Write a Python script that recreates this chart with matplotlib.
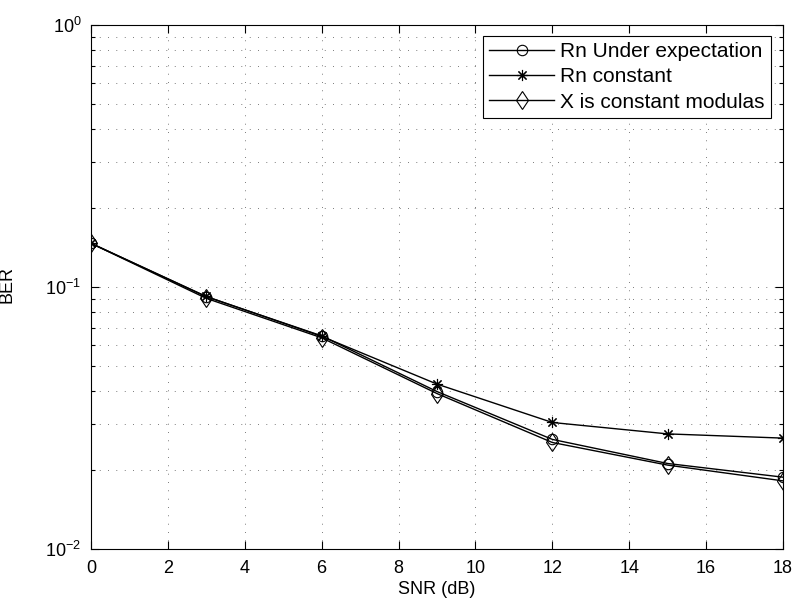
import numpy as np
import matplotlib.pyplot as plt
from matplotlib.ticker import LogLocator, NullFormatter, MultipleLocator

plt.rcParams['font.family'] = ['Liberation Sans', 'DejaVu Sans']
plt.rcParams['mathtext.fontset'] = 'custom'
plt.rcParams['mathtext.rm'] = 'Liberation Sans'

# data
snr = [0, 3, 6, 9, 12, 15, 18]
ber_expect = [0.1468, 0.0918, 0.0651, 0.0399, 0.0262, 0.0212, 0.0188]
ber_const = [0.1468, 0.0920, 0.0648, 0.0426, 0.0304, 0.0275, 0.0265]
ber_cm = [0.1468, 0.0905, 0.0640, 0.0392, 0.0255, 0.0209, 0.0182]
labels = ['Rn Under expectation', 'Rn constant', 'X is constant modulas']

fig = plt.figure(figsize=(7.97, 6.10), dpi=100)
ax = fig.add_axes([91 / 797, 1 - 549 / 610, 692 / 797, 524 / 610])

ax.semilogy(snr, ber_expect, color='k', lw=1, marker='o', ms=7.5,
            mfc='none', mec='k', mew=0.8, label=labels[0])
ax.semilogy(snr, ber_const, color='k', lw=1, marker=(8, 2, 0), ms=8,
            mfc='none', mec='k', mew=0.8, label=labels[1])
ax.semilogy(snr, ber_cm, color='k', lw=1, marker='d', ms=9.5,
            mfc='none', mec='k', mew=0.8, label=labels[2])

ax.set_xlim(0, 18)
ax.set_ylim(1e-2, 1e0)
ax.xaxis.set_major_locator(MultipleLocator(2))
ax.yaxis.set_major_locator(LogLocator(base=10, numticks=10))
ax.yaxis.set_minor_locator(LogLocator(base=10, subs=np.arange(2, 10), numticks=20))
ax.yaxis.set_minor_formatter(NullFormatter())

dots = (0, (1, 11))
ax.grid(True, which='major', axis='both', ls=dots, color='k', lw=0.5)
ax.grid(True, which='minor', axis='y', ls=dots, color='k', lw=0.5)

ax.tick_params(which='both', direction='in', top=True, right=True,
               labelsize=13, width=0.8)
ax.tick_params(which='major', length=6)
ax.tick_params(which='minor', length=3)
ax.tick_params(axis='x', pad=8)
ax.tick_params(axis='y', pad=7)
for s in ax.spines.values():
    s.set_linewidth(0.8)

ax.set_xlabel('SNR (dB)', fontsize=13, labelpad=3)
ax.set_ylabel('BER', fontsize=13)
ax.yaxis.set_label_coords(-0.109, 0.505)

leg = ax.legend(loc='upper right', bbox_to_anchor=(771 / 797, 1 - 36 / 610),
                bbox_transform=fig.transFigure, fontsize=15, frameon=True,
                fancybox=False, edgecolor='k', framealpha=1, borderaxespad=0,
                handlelength=3.1, handletextpad=0.3, borderpad=0.3,
                labelspacing=0.3)
leg.get_frame().set_linewidth(0.8)

fig.savefig('out.png', dpi=100)
